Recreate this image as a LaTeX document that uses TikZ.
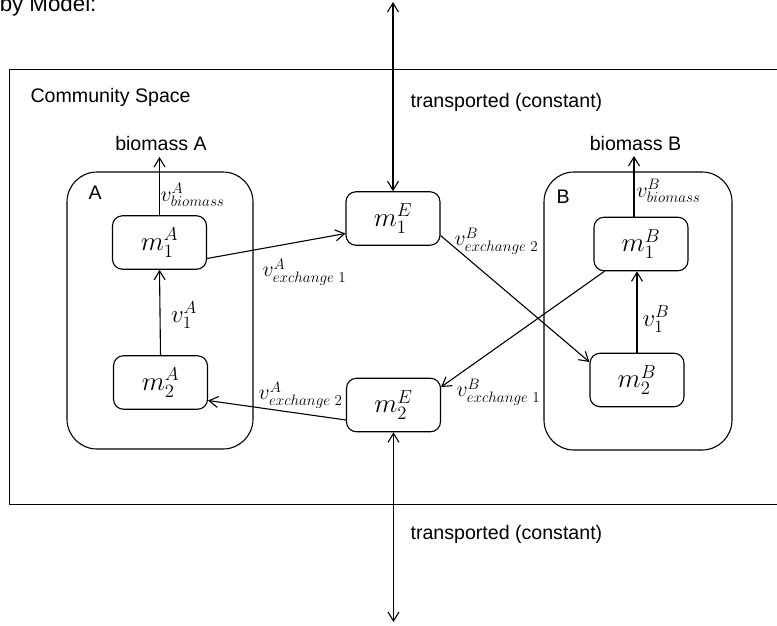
\documentclass[tikz,border=0pt]{standalone}
\usepackage{graphicx}
\usepackage{fontspec}
\setmainfont{Liberation Sans}
\usetikzlibrary{arrows.meta}
\newcommand{\poolname}[1]{\scalebox{1.3}{$#1$}}
\newcommand{\fluxname}[2][1.05]{\scalebox{#1}{$#2$}}
\begin{document}
\begin{tikzpicture}[x=1pt,y=-1pt,
  line width=1.1pt,
  font=\fontsize{19.6}{23.5}\selectfont,
  >={Straight Barb[length=9pt,width=11pt]},
  pool/.style={draw, rounded corners=10pt, minimum width=94pt, minimum height=53.5pt, inner sep=0pt},
  organism/.style={draw, rounded corners=30pt, inner sep=0pt},
  flux/.style={inner sep=0pt},
  caption/.style={inner sep=0pt}]
\useasboundingbox (0,0) rectangle (777,625);
\clip (0,0) rectangle (777,625);

% heading, partly outside the page
\node[caption, anchor=base east, font=\fontsize{22.3}{26}\selectfont] (title) at (97,11) {by Model:};

% community compartment
\node[draw, inner sep=0pt, minimum width=800pt, minimum height=435pt, anchor=north west] (space) at (9,69) {};
\node[caption, anchor=base west] (spacelabel) at (30,102) {Community Space};
\node[caption, anchor=base west] (tr1) at (410,107) {transported (constant)};
\node[caption, anchor=base west] (tr2) at (410,539) {transported (constant)};

% organisms
\node[organism, minimum width=186pt, minimum height=277pt] (cellA) at (160,310.5) {};
\node[organism, minimum width=188pt, minimum height=278pt] (cellB) at (638,311) {};
\node[caption, anchor=base west] (labA) at (88,199) {A};
\node[caption, anchor=base west] (labB) at (556,203) {B};
\node[caption, anchor=base] (bioAtext) at (161,150) {biomass A};
\node[caption, anchor=base] (bioBtext) at (635.5,150) {biomass B};

% metabolite pools
\node[pool] (m1A) at (159.5,242.5) {\poolname{m_1^A}};
\node[pool] (m2A) at (160.5,382.5) {\poolname{m_2^A}};
\node[pool] (m1E) at (393,218.5) {\poolname{m_1^E}};
\node[pool] (m2E) at (393.5,405) {\poolname{m_2^E}};
\node[pool] (m1B) at (641,244) {\poolname{m_1^B}};
\node[pool] (m2B) at (637,380) {\poolname{m_2^B}};

% free ends
\coordinate (topend) at (393,2);
\coordinate (botend) at (393.5,622);
\coordinate (bioA) at (159.5,157);
\coordinate (bioB) at (634,156);

% fluxes
\draw[<->] (m1E.north) -- (topend);
\draw[<->] (m2E.south) -- (botend);
\draw[->] (m1A.north) -- (bioA);
\draw[->] ([xshift=-7pt]m1B.north) -- (bioB);
\draw[->] (m2A.north) -- (m1A.south);
\draw[->] (m2B.north) -- (m2B.north |- m1B.south);
\draw[->] ([yshift=-16pt]m1A.east) -- ([yshift=-15pt]m1E.west);
\draw[->] ([yshift=-17pt]m1E.east) -- ([yshift=18pt]m2B.west);
\draw[->] ([xshift=11pt]m1B.south west) -- ([yshift=18pt]m2E.east);
\draw[->] ([yshift=-15pt]m2E.west) -- ([yshift=-18pt]m2A.east);

% flux labels
\node[flux, anchor=west] (vbA) at (160,195) {\fluxname{v^A_{biomass}}};
\node[flux, anchor=west] (vbB) at (636,191) {\fluxname{v^B_{biomass}}};
\node[flux] (v1A) at (184,315) {\fluxname[1.2]{v^A_1}};
\node[flux] (v1B) at (656,319) {\fluxname[1.2]{v^B_1}};
\node[flux, anchor=west] (vxA1) at (262,272) {\fluxname{v^A_{exchange\;1}}};
\node[flux, anchor=west] (vxB2) at (454,241) {\fluxname{v^B_{exchange\;2}}};
\node[flux, anchor=west] (vxB1) at (456,392) {\fluxname{v^B_{exchange\;1}}};
\node[flux, anchor=east] (vxA2) at (343,395) {\fluxname{v^A_{exchange\;2}}};
\end{tikzpicture}
\end{document}
